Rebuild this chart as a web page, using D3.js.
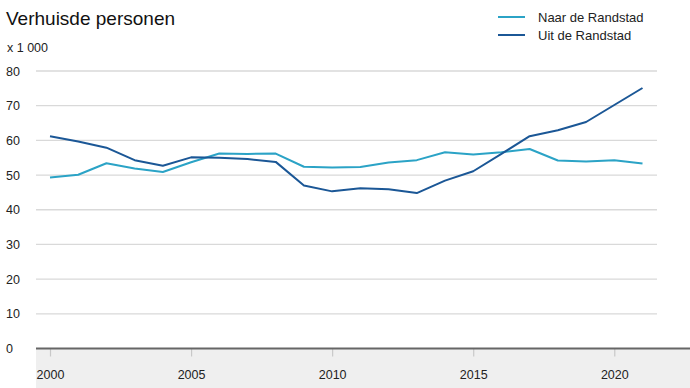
<!DOCTYPE html>
<html>
<head>
<meta charset="utf-8">
<script src="https://cdn.jsdelivr.net/npm/d3@7"></script>
<style>
  body { margin: 0; background: #fff; }
  svg { display: block; font-family: "Liberation Sans", Arial, sans-serif; }
</style>
</head>
<body>
<svg id="chart" width="690" height="388"></svg>
<script>
const years = d3.range(2000, 2022);
const naar = [49.3, 50.1, 53.4, 51.9, 50.9, 53.7, 56.2, 56.1, 56.2, 52.4, 52.2, 52.3, 53.6, 54.3, 56.6, 55.9, 56.6, 57.5, 54.2, 53.9, 54.3, 53.3];
const uit = [61.2, 59.7, 57.9, 54.3, 52.7, 55.1, 55.0, 54.6, 53.8, 47.0, 45.3, 46.2, 45.9, 44.8, 48.4, 51.1, 56.1, 61.2, 62.9, 65.3, 70.2, 75.1];
const yTicks = [0, 10, 20, 30, 40, 50, 60, 70, 80];
const xTicks = [2000, 2005, 2010, 2015, 2020];
const series = [
  { name: 'Naar de Randstad', values: naar, color: '#2ba3c6' },
  { name: 'Uit de Randstad', values: uit, color: '#1b5796' }
];

const svg = d3.select('#chart');
const plotLeft = 36, plotRight = 657;

const x = d3.scaleLinear().domain([2000, 2021]).range([50, 642.5]);
const y = d3.scaleLinear().domain([0, 80]).range([348.5, 71]);

// grey band under the axis
svg.append('rect')
  .attr('x', plotLeft).attr('y', y(0))
  .attr('width', 690 - plotLeft).attr('height', 388 - y(0))
  .attr('fill', '#efefef');

// gridlines
svg.append('g')
  .selectAll('line')
  .data(yTicks.filter(d => d > 0))
  .enter()
  .append('line')
  .attr('x1', plotLeft).attr('x2', plotRight)
  .attr('y1', d => y(d)).attr('y2', d => y(d))
  .attr('stroke', '#d9d9d9')
  .attr('stroke-width', 1.3);

// y labels
svg.append('g')
  .selectAll('text')
  .data(yTicks)
  .enter()
  .append('text')
  .attr('x', 6)
  .attr('y', d => y(d) + 4.5)
  .attr('font-size', 12.5)
  .attr('fill', '#222')
  .text(d => d);

// x axis ticks
const xAxis = d3.axisBottom(x)
  .tickValues(xTicks)
  .tickSize(8)
  .tickPadding(14)
  .tickFormat(d3.format('d'));

const gx = svg.append('g')
  .attr('transform', `translate(0,${y(0)})`)
  .call(xAxis);
gx.select('.domain').remove();
gx.selectAll('.tick line').attr('stroke', '#c8c8c8').attr('stroke-width', 1.2);
gx.selectAll('.tick text')
  .attr('font-size', 12.5)
  .attr('fill', '#222')
  .attr('font-family', '"Liberation Sans", Arial, sans-serif');

// zero line
svg.append('line')
  .attr('x1', plotLeft).attr('x2', 690)
  .attr('y1', y(0)).attr('y2', y(0))
  .attr('stroke', '#666')
  .attr('stroke-width', 2);

// lines
const line = d3.line()
  .x((d, i) => x(years[i]))
  .y(d => y(d));

series.forEach(s => {
  svg.append('path')
    .datum(s.values)
    .attr('d', line)
    .attr('fill', 'none')
    .attr('stroke', s.color)
    .attr('stroke-width', 2)
    .attr('stroke-linejoin', 'round');
});

// title + unit
svg.append('text')
  .attr('x', 6).attr('y', 25)
  .attr('font-size', 19)
  .attr('fill', '#111')
  .text('Verhuisde personen');

svg.append('text')
  .attr('x', 7).attr('y', 52)
  .attr('font-size', 12.5)
  .attr('fill', '#222')
  .text('x 1 000');

// legend
const legend = svg.append('g');
series.forEach((s, i) => {
  const ly = 17 + i * 18;
  legend.append('line')
    .attr('x1', 498).attr('x2', 525)
    .attr('y1', ly).attr('y2', ly)
    .attr('stroke', s.color)
    .attr('stroke-width', 2);
  legend.append('text')
    .attr('x', 538).attr('y', ly + 4.5)
    .attr('font-size', 13)
    .attr('fill', '#222')
    .text(s.name);
});
</script>
</body>
</html>
